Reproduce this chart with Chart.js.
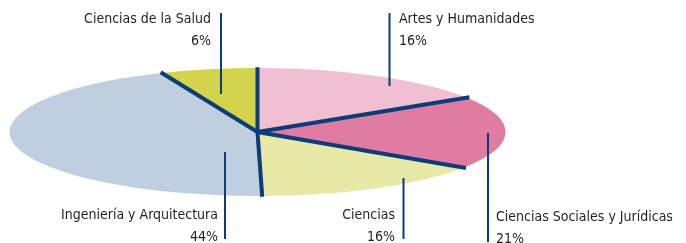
<!DOCTYPE html>
<html>
<head>
<meta charset="utf-8">
<script src="https://cdn.jsdelivr.net/npm/chart.js@4/dist/chart.umd.min.js"></script>
<style>
html,body{margin:0;padding:0;background:#fff;}
#wrap{width:686px;height:243px;}
</style>
</head>
<body>
<div id="wrap"><canvas id="c" width="686" height="243"></canvas></div>
<script>
// Data (slice shares as drawn, percentages as labelled)
const categories = ["Artes y Humanidades", "Ciencias Sociales y Jurídicas", "Ciencias", "Ingeniería y Arquitectura", "Ciencias de la Salud"];
const sliceValues = [16, 18.4, 15.3, 44, 6.3];
const percentLabels = ["16%", "21%", "16%", "44%", "6%"];

// Styling / layout
const sliceColors = ["#f0bfd2", "#e07ca2", "#e8e8a7", "#bfcfdf", "#d4d44c"];
const lineColor = "#0b3d78";
const ellipse = {cx: 257.5, cy: 132, rx: 248, ry: 64};
// label layout: [text x, align, baseline y of first line, leader x, leader y1, leader y2]
const labelLayout = [
  {x: 399, align: "left",  y: 23,  lx: 389.5, ly1: 13,  ly2: 86},
  {x: 496, align: "left",  y: 221, lx: 488,   ly1: 133, ly2: 242},
  {x: 395, align: "right", y: 219, lx: 403.5, ly1: 178, ly2: 239},
  {x: 218, align: "right", y: 219, lx: 225,   ly1: 152, ly2: 239},
  {x: 211, align: "right", y: 23,  lx: 221,   ly1: 13,  ly2: 94}
];

const ellipsePlugin = {
  id: "ellipse",
  beforeDatasetsDraw(chart) {
    const arc = chart.getDatasetMeta(0).data[0];
    const ctx = chart.ctx;
    ctx.save();
    ctx.translate(ellipse.cx, ellipse.cy);
    ctx.scale(ellipse.rx / arc.outerRadius, ellipse.ry / arc.outerRadius);
    ctx.translate(-arc.x, -arc.y);
  },
  afterDatasetsDraw(chart) {
    const ctx = chart.ctx;
    ctx.restore();
    const meta = chart.getDatasetMeta(0);
    // separators
    ctx.save();
    ctx.strokeStyle = lineColor;
    ctx.lineWidth = 4;
    ctx.lineCap = "butt";
    meta.data.forEach(a => {
      const ang = a.startAngle;
      const k = 1.012;
      ctx.beginPath();
      ctx.moveTo(ellipse.cx, ellipse.cy);
      ctx.lineTo(ellipse.cx + ellipse.rx * k * Math.cos(ang), ellipse.cy + ellipse.ry * k * Math.sin(ang));
      ctx.stroke();
    });
    // leaders + labels
    ctx.lineWidth = 2;
    ctx.fillStyle = "#231f20";
    ctx.font = "14px 'Liberation Sans Narrow', 'Arial Narrow', 'DejaVu Sans Condensed', sans-serif";
    ctx.textBaseline = "alphabetic";
    labelLayout.forEach((L, i) => {
      ctx.beginPath();
      ctx.moveTo(L.lx, L.ly1);
      ctx.lineTo(L.lx, L.ly2);
      ctx.stroke();
      ctx.textAlign = L.align;
      ctx.fillText(categories[i], L.x, L.y);
      ctx.fillText(percentLabels[i], L.x, L.y + 22);
    });
    ctx.restore();
  }
};

new Chart(document.getElementById("c"), {
  type: "pie",
  data: {
    labels: categories,
    datasets: [{
      data: sliceValues,
      backgroundColor: sliceColors,
      borderWidth: 0,
      hoverOffset: 0
    }]
  },
  options: {
    responsive: false,
    animation: false,
    rotation: 0,
    layout: {padding: 10},
    plugins: {legend: {display: false}, tooltip: {enabled: false}}
  },
  plugins: [ellipsePlugin]
});
</script>
</body>
</html>
